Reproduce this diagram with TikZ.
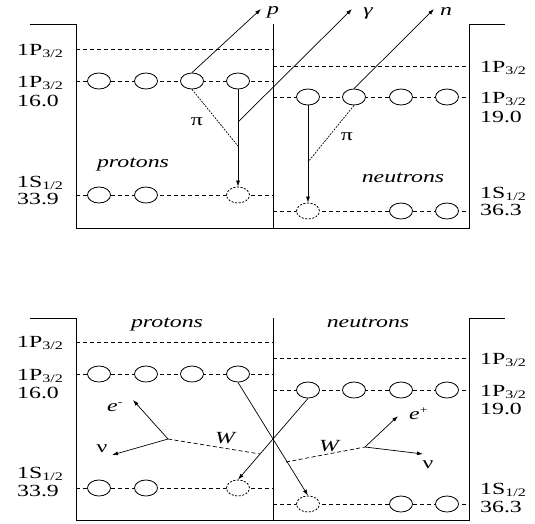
\documentclass[tikz,border=0pt]{standalone}
\usepackage{fontspec}
\setmainfont{Liberation Serif}
\usetikzlibrary{shapes.geometric,arrows.meta}
% horizontally widened text, as in the level scheme
\newcommand\wide[1]{\scalebox{1.4}[1]{#1}}
\newcommand\lsub[1]{\raisebox{-2.5pt}{\fontsize{11.5}{12}\selectfont #1}}
\newcommand\lsup[1]{\raisebox{6pt}{\fontsize{10}{10}\selectfont #1}}
\begin{document}
\begin{tikzpicture}[x=1pt,y=-1pt,
  wall/.style={line width=1pt},
  level/.style={line width=0.6pt, dash pattern=on 4pt off 3pt},
  orb/.style={ellipse, draw, fill=white, line width=0.8pt,
    minimum width=23pt, minimum height=16pt, inner sep=0pt},
  hole/.style={orb, dash pattern=on 2pt off 1.6pt},
  ray/.style={line width=0.7pt, -{Latex[length=6pt,width=4pt]}},
  pion/.style={line width=0.7pt, dash pattern=on 1.8pt off 1.2pt},
  wline/.style={line width=0.7pt, dash pattern=on 4pt off 2.5pt},
  lab/.style={inner sep=0pt, font=\fontsize{17}{18}\selectfont},
  ilab/.style={lab, font=\fontsize{17}{18}\selectfont\itshape}]
\useasboundingbox (0,0) rectangle (535,523);

% ================= upper panel: pion / gamma / nucleon emission
% walls
\draw[wall] (30,24) -- (76,24) -- (76,228) -- (469,228) -- (469,24) -- (505,24);
\draw[wall] (273,24) -- (273,228);
% levels
\foreach \y in {49,81,195} \draw[level] (76,\y) -- (273,\y);
\foreach \y in {66,97,211} \draw[level] (273,\y) -- (469,\y);
% proton orbitals
\node[orb] (tp1) at (99,81) {};
\node[orb] (tp2) at (146,81) {};
\node[orb] (tp3) at (192,81) {};
\node[orb] (tp4) at (238,81) {};
\node[orb] (tb1) at (99,195) {};
\node[orb] (tb2) at (146,195) {};
\node[hole] (tb4) at (238,195) {};
% neutron orbitals
\node[orb] (tn1) at (308,97) {};
\node[orb] (tn2) at (354,97) {};
\node[orb] (tn3) at (401,97) {};
\node[orb] (tn4) at (447,97) {};
\node[hole] (tnb1) at (308,211) {};
\node[orb] (tnb3) at (401,211) {};
\node[orb] (tnb4) at (447,211) {};
% vertices and free ends
\coordinate (piA) at (238,146);
\coordinate (gamA) at (238,122);
\coordinate (piB) at (308,162);
\coordinate (tipP) at (261,9);
\coordinate (tipG) at (352,9);
\coordinate (tipN) at (434,9);
% transitions
\draw[ray] (tp4.south) -- (tb4.north);
\draw[pion] (tp3.south) -- (piA);
\draw[ray] (tp3.north) -- (tipP);
\draw[ray] (gamA) -- (tipG);
\draw[ray] (tn1.south) -- (tnb1.north);
\draw[pion] (tn2.south) -- (piB);
\draw[ray] (tn2.north) -- (tipN);
% particle labels
\node[ilab, anchor=base] (lp) at (273,14) {\wide{p}};
\node[ilab, anchor=base] (lg) at (368,15) {\wide{γ}};
\node[ilab, anchor=base] (ln) at (446,15) {\wide{n}};
\node[lab] (lpiA) at (197,122) {\wide{π}};
\node[lab] (lpiB) at (347,137) {\wide{π}};
\node[ilab, anchor=base] (lprotA) at (133,167) {\wide{protons}};
\node[ilab, anchor=base] (lneutA) at (403,182) {\wide{neutrons}};
% level labels
\node[lab, anchor=base west] (a1) at (17,55) {\wide{1P\lsub{3/2}}};
\node[lab, anchor=base west] (a2) at (17,87) {\wide{1P\lsub{3/2}}};
\node[lab, anchor=base west] (a3) at (17,106) {\wide{16.0}};
\node[lab, anchor=base west] (a4) at (17,187) {\wide{1S\lsub{1/2}}};
\node[lab, anchor=base west] (a5) at (17,204) {\wide{33.9}};
\node[lab, anchor=base west] (b1) at (480,72) {\wide{1P\lsub{3/2}}};
\node[lab, anchor=base west] (b2) at (480,103) {\wide{1P\lsub{3/2}}};
\node[lab, anchor=base west] (b3) at (480,122) {\wide{19.0}};
\node[lab, anchor=base west] (b4) at (480,198) {\wide{1S\lsub{1/2}}};
\node[lab, anchor=base west] (b5) at (480,215) {\wide{36.3}};

% ================= lower panel: weak (W) exchange
% walls
\draw[wall] (30,318) -- (76,318) -- (76,520) -- (469,520) -- (469,318) -- (505,318);
\draw[wall] (273,318) -- (273,520);
% levels
\foreach \y in {342,374,488} \draw[level] (76,\y) -- (273,\y);
\foreach \y in {358,390,504} \draw[level] (273,\y) -- (469,\y);
% proton orbitals
\node[orb] (bp1) at (99,374) {};
\node[orb] (bp2) at (146,374) {};
\node[orb] (bp3) at (192,374) {};
\node[orb] (bp4) at (238,374) {};
\node[orb] (bpb1) at (99,488) {};
\node[orb] (bpb2) at (146,488) {};
\node[hole] (bpb4) at (238,488) {};
% neutron orbitals
\node[orb] (bn1) at (308,390) {};
\node[orb] (bn2) at (354,390) {};
\node[orb] (bn3) at (401,390) {};
\node[orb] (bn4) at (447,390) {};
\node[hole] (bnb1) at (308,504) {};
\node[orb] (bnb3) at (401,504) {};
\node[orb] (bnb4) at (447,504) {};
% W vertices and free ends
\coordinate (wL) at (168,439);
\coordinate (wLend) at (260,454);
\coordinate (wR) at (365,447);
\coordinate (wRend) at (286,462);
\coordinate (tipEm) at (133,400);
\coordinate (tipNuL) at (112,455);
\coordinate (tipEp) at (398,416);
\coordinate (tipNuR) at (423,454);
% crossing nucleon transitions
\draw[ray] (bp4.south) -- (bnb1.north);
\draw[ray] (bn1.south) -- (bpb4.north);
% W lines and leptons
\draw[wline] (wL) -- (wLend);
\draw[wline] (wRend) -- (wR);
\draw[ray] (wL) -- (tipEm);
\draw[ray] (wL) -- (tipNuL);
\draw[ray] (wR) -- (tipEp);
\draw[ray] (wR) -- (tipNuR);
% labels
\node[ilab, anchor=base] (lprotB) at (167,327) {\wide{protons}};
\node[ilab, anchor=base] (lneutB) at (368,327) {\wide{neutrons}};
\node[ilab, anchor=base] (lWL) at (225,443) {\wide{W}};
\node[ilab, anchor=base] (lWR) at (329,451) {\wide{W}};
\node[lab, anchor=base west] (lem) at (107,411) {\wide{\textit{e}\lsup{-}}};
\node[lab, anchor=base] (lnuL) at (102,452) {\wide{ν}};
\node[lab, anchor=base west] (lep) at (409,419) {\wide{\textit{e}\lsup{+}}};
\node[lab, anchor=base] (lnuR) at (428,468) {\wide{ν}};
% level labels
\node[lab, anchor=base west] (c1) at (17,347) {\wide{1P\lsub{3/2}}};
\node[lab, anchor=base west] (c2) at (17,380) {\wide{1P\lsub{3/2}}};
\node[lab, anchor=base west] (c3) at (17,398) {\wide{16.0}};
\node[lab, anchor=base west] (c4) at (17,478) {\wide{1S\lsub{1/2}}};
\node[lab, anchor=base west] (c5) at (17,496) {\wide{33.9}};
\node[lab, anchor=base west] (d1) at (480,364) {\wide{1P\lsub{3/2}}};
\node[lab, anchor=base west] (d2) at (480,396) {\wide{1P\lsub{3/2}}};
\node[lab, anchor=base west] (d3) at (480,414) {\wide{19.0}};
\node[lab, anchor=base west] (d4) at (480,494) {\wide{1S\lsub{1/2}}};
\node[lab, anchor=base west] (d5) at (480,512) {\wide{36.3}};
\end{tikzpicture}
\end{document}
